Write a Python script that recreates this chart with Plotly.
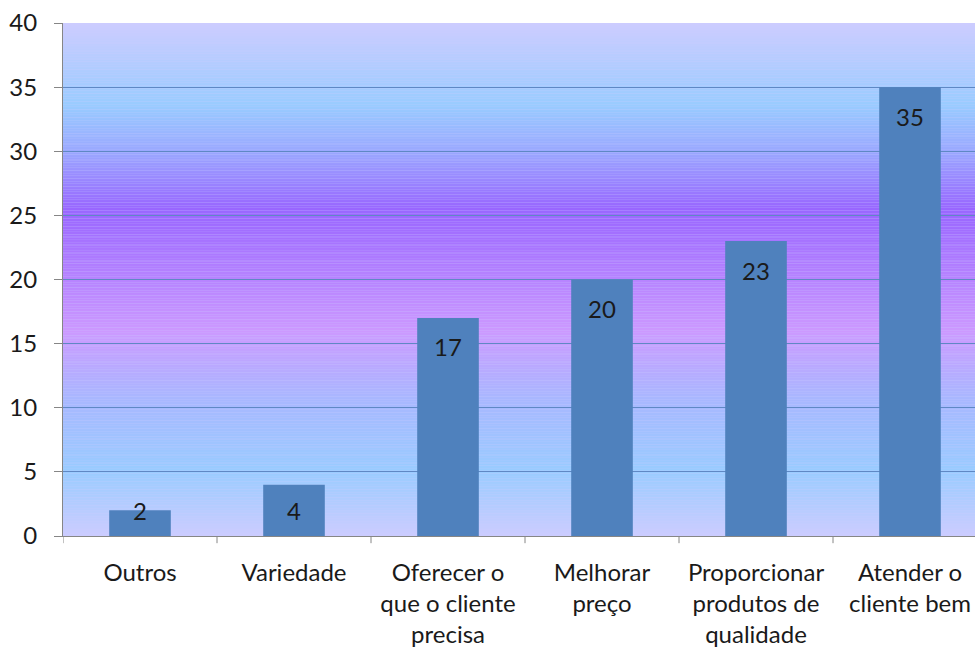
import plotly.graph_objects as go

# Survey answers and their counts
categories = [
    "Outros",
    "Variedade",
    "Oferecer o<br>que o cliente<br>precisa",
    "Melhorar<br>preço",
    "Proporcionar<br>produtos de<br>qualidade",
    "Atender o<br>cliente bem",
]
values = [2, 4, 17, 20, 23, 35]
y_ticks = [0, 5, 10, 15, 20, 25, 30, 35, 40]

FONT = "Lato"
TEXT = "#1a1a1a"
Y_MAX = 40

# Background gradient stops (value on y axis -> RGB)
grad_stops = [
    (0.0, (204, 204, 255)),
    (5.1, (153, 204, 255)),
    (10.6, (168, 184, 255)),
    (16.0, (204, 153, 255)),
    (25.5, (153, 102, 255)),
    (30.0, (154, 168, 255)),
    (33.6, (153, 204, 255)),
    (40.0, (204, 204, 255)),
]


def grad_color(v):
    for (a, ca), (b, cb) in zip(grad_stops[:-1], grad_stops[1:]):
        if a <= v <= b:
            t = (v - a) / (b - a)
            c = [round(ca[i] + (cb[i] - ca[i]) * t) for i in range(3)]
            return f"rgb({c[0]},{c[1]},{c[2]})"
    return "rgb(204,204,255)"


n_strips = 320
step = Y_MAX / n_strips
shapes = []
for i in range(n_strips):
    y0 = i * step
    shapes.append(dict(
        type="rect", xref="paper", yref="y", x0=0, x1=1,
        y0=y0, y1=y0 + step * 1.05,
        fillcolor=grad_color(y0 + step / 2), line=dict(width=0),
        layer="below",
    ))

fig = go.Figure()
fig.add_trace(go.Bar(
    x=list(range(len(categories))), y=values,
    marker=dict(color="#4f81bd", line=dict(width=0)),
    width=0.4, hoverinfo="skip",
))

# Value labels placed just inside the top of each bar
for i, v in enumerate(values):
    fig.add_annotation(
        x=i, y=max(v - 2.26, 2.0), text=str(v), showarrow=False,
        font=dict(family=FONT, size=24, color=TEXT),
        xanchor="center", yanchor="middle",
    )

fig.update_layout(
    width=975, height=647,
    margin=dict(l=63, r=0, t=23, b=111),
    paper_bgcolor="white",
    plot_bgcolor="rgb(204,204,255)",
    showlegend=False,
    shapes=shapes,
    font=dict(family=FONT, size=24, color=TEXT),
)
fig.update_xaxes(
    type="linear",
    tickmode="array", tickvals=list(range(len(categories))), ticktext=categories,
    range=[-0.5, 5.422], showgrid=False, zeroline=False,
    showline=True, linecolor="#868686", linewidth=1,
    ticks="", tickfont=dict(family=FONT, size=24, color=TEXT),
    ticklabelstandoff=15,
)
fig.update_yaxes(
    range=[0, Y_MAX], tickvals=y_ticks,
    showgrid=True, gridcolor="#5f88c4", gridwidth=1, zeroline=False,
    showline=True, linecolor="#868686", linewidth=1,
    ticks="outside", ticklen=8, tickcolor="#868686",
    tickfont=dict(family=FONT, size=24, color=TEXT),
    ticklabelstandoff=12,
)

# Category separators on the x axis (between bars)
for b in [i + 0.5 for i in range(-1, len(categories))]:
    fig.add_shape(type="line", xref="x", yref="paper", x0=b, x1=b, y0=0, y1=-0.014,
                  line=dict(color="#868686", width=1), layer="above")

fig.write_html("out.html")
